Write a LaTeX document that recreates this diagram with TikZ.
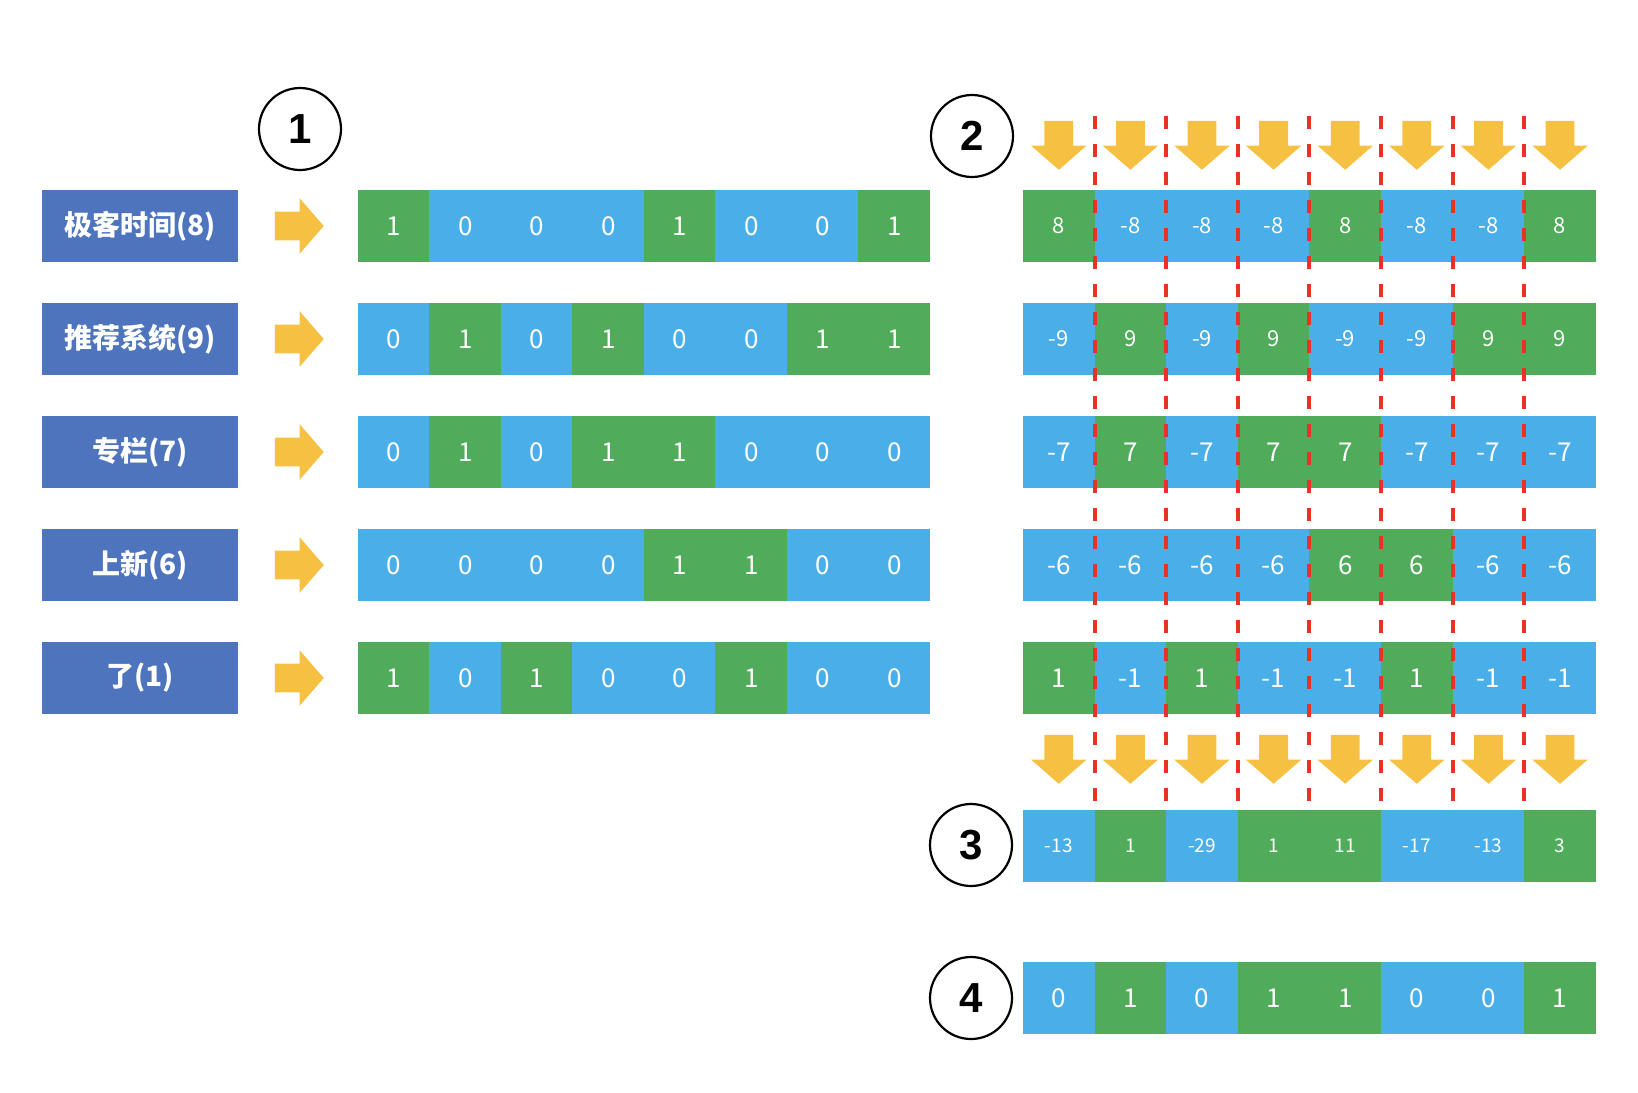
\documentclass[tikz,border=0pt]{standalone}
\usepackage{fontspec}
\setmainfont{Noto Sans CJK SC}
\newfontfamily\numfont{Liberation Sans}
\usetikzlibrary{shapes.arrows}

\definecolor{bitone}{RGB}{80,171,91}
\definecolor{bitzero}{RGB}{74,175,232}
\definecolor{wordblue}{RGB}{78,116,190}
\definecolor{arrowc}{RGB}{246,192,66}
\definecolor{sepred}{RGB}{232,50,40}

\begin{document}
\begin{tikzpicture}[x=0.5pt, y=-0.5pt,
    cell/.style={rectangle, minimum width=35.9pt, minimum height=36pt, inner sep=0pt, text=white, font=\fontsize{13}{13}\selectfont},
    bit1/.style={cell, fill=bitone},
    bit0/.style={cell, fill=bitzero},
    wordbox/.style={rectangle, fill=wordblue, minimum width=98pt, minimum height=36pt, inner sep=0pt, text=white, font=\bfseries\fontsize{14}{14}\selectfont},
    stepno/.style={draw, circle, line width=1.1pt, minimum size=41pt, inner sep=0pt, font=\numfont\bfseries\fontsize{21}{21}\selectfont},
    rarrow/.style={single arrow, fill=arrowc, draw=none, minimum height=24.5pt, inner xsep=0pt, inner ysep=7pt, single arrow head extend=6.75pt, single arrow tip angle=98},
    darrow/.style={rarrow, shape border rotate=270, inner xsep=7pt, inner ysep=0pt},
    sep/.style={draw=sepred, line width=2pt, dash pattern=on 6.5pt off 7.5pt}
]
\useasboundingbox (0,0) rectangle (1638,1092);

% Step numbers
\node[stepno] (c1) at (300,129) {1};
\node[stepno] (c2) at (972,136) {2};
\node[stepno] (c3) at (971,845) {3};
\node[stepno] (c4) at (971,998) {4};

% Words
\node[wordbox] (w1) at (140,226) {极客时间(8)};
\node[wordbox] (w2) at (140,339) {推荐系统(9)};
\node[wordbox] (w3) at (140,452) {专栏(7)};
\node[wordbox] (w4) at (140,565) {上新(6)};
\node[wordbox] (w5) at (140,678) {了(1)};

% Hashes and weighted rows
\foreach \row/\w/\fs [count=\r] in {{1,0,0,0,1,0,0,1}/8/11, {0,1,0,1,0,0,1,1}/9/11, {0,1,0,1,1,0,0,0}/7/13, {0,0,0,0,1,1,0,0}/6/13, {1,0,1,0,0,1,0,0}/1/13}{
  \pgfmathsetmacro\yy{226+113*(\r-1)}
  \node[rarrow] (ra\r) at (293,\yy) {};
  \foreach \b [count=\i] in \row {
    \node[bit\b] (h\r-\i) at ({358+71.5*(\i-0.5)},\yy) {\b};
    \node[bit\b, font=\fontsize{\fs}{\fs}\selectfont] (s\r-\i) at ({1023+71.6*(\i-0.5)},\yy) {\ifnum\b=1 \w\else -\w\fi};
  }
}

% Sums
\foreach \v/\b [count=\i] in {-13/0, 1/1, -29/0, 1/1, 11/1, -17/0, -13/0, 3/1}{
  \node[bit\b, font=\fontsize{9.5}{9.5}\selectfont] (sum\i) at ({1023+71.6*(\i-0.5)},846) {\v};
  \node[darrow] (da\i) at ({1023+71.6*(\i-0.5)},139) {};
  \node[darrow] (db\i) at ({1023+71.6*(\i-0.5)},753) {};
}

% Fingerprint
\foreach \b [count=\i] in {0,1,0,1,1,0,0,1}
  \node[bit\b] (f\i) at ({1023+71.6*(\i-0.5)},998) {\b};

% Column separators
\foreach \k in {1,...,7}{
  \coordinate (st\k) at ({1023+71.6*\k},116);
  \coordinate (sb\k) at ({1023+71.6*\k},803);
  \draw[sep] (st\k) -- (sb\k);
}

\end{tikzpicture}
\end{document}
